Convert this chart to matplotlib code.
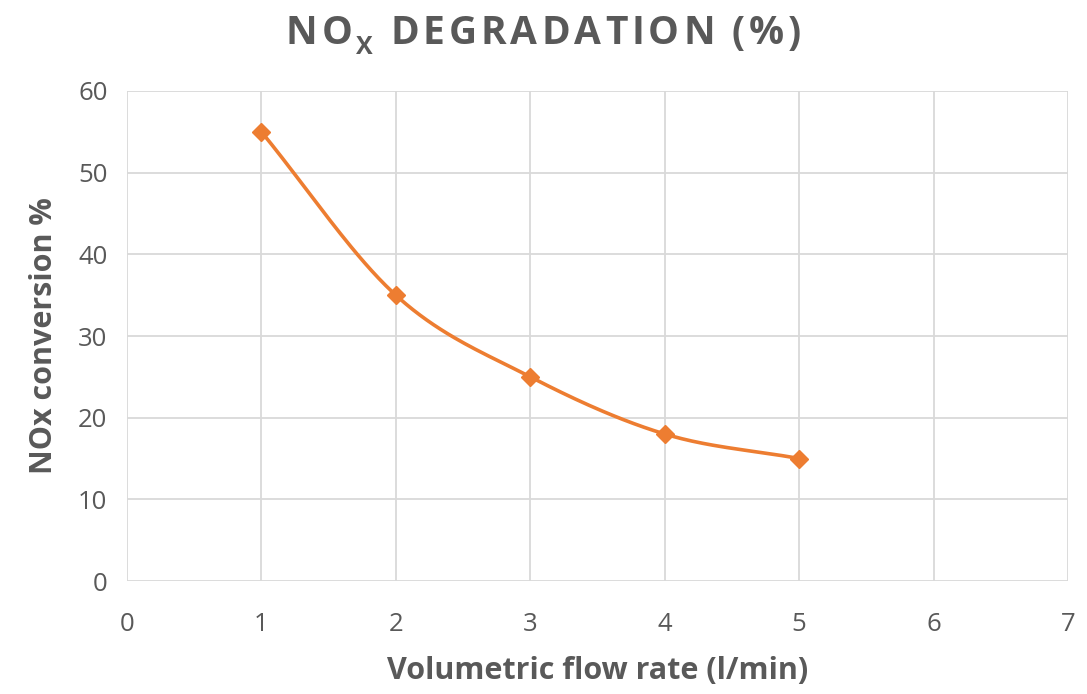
import matplotlib
matplotlib.use('Agg')
import matplotlib.pyplot as plt
import numpy as np

# NOx conversion vs. flow rate
flow_rate = [1, 2, 3, 4, 5]
nox_conversion = [55, 35, 25, 18, 15]
x_ticks = [0, 1, 2, 3, 4, 5, 6, 7]
y_ticks = [0, 10, 20, 30, 40, 50, 60]

TEXT = '#595959'
GRID = '#D9D9D9'
ORANGE = '#ED7D31'

plt.rcParams['font.family'] = ['Open Sans', 'DejaVu Sans']


def smooth_curve(xs, ys, n=40):
    """Catmull-Rom style smoothing, similar to a spreadsheet smoothed line."""
    xs = np.asarray(xs, float)
    ys = np.asarray(ys, float)
    pts = np.column_stack([xs, ys])
    ext = np.vstack([pts[0] - (pts[1] - pts[0]), pts, pts[-1] + (pts[-1] - pts[-2])])
    out = []
    for i in range(1, len(ext) - 2):
        p0, p1, p2, p3 = ext[i - 1], ext[i], ext[i + 1], ext[i + 2]
        c1 = p1 + (p2 - p0) / 6
        c2 = p2 - (p3 - p1) / 6
        t = np.linspace(0, 1, n)[:, None]
        seg = ((1 - t) ** 3) * p1 + 3 * ((1 - t) ** 2) * t * c1 + 3 * (1 - t) * t ** 2 * c2 + t ** 3 * p2
        out.append(seg if i == 1 else seg[1:])
    out = np.vstack(out)
    return out[:, 0], out[:, 1]


def spaced_title(fig, parts, y, tracking=3.5):
    """Draw a letter-spaced title; parts = [(text, size, dy_px)]."""
    fig.canvas.draw()
    r = fig.canvas.get_renderer()
    W = fig.bbox.width
    items = []
    total = 0
    for txt, size, dy in parts:
        for ch in txt:
            t = fig.text(0, 0, ch, fontsize=size, fontweight='bold', color=TEXT)
            w = t.get_window_extent(r).width
            t.remove()
            if ch == ' ':
                w = size * 0.32
            items.append((ch, size, dy, w))
            total += w + tracking
    total -= tracking
    x = (W - total) / 2
    H = fig.bbox.height
    for ch, size, dy, w in items:
        if ch != ' ':
            fig.text(x / W, (y * H - dy) / H, ch, fontsize=size,
                     fontweight='bold', color=TEXT, ha='left', va='baseline')
        x += w + tracking


fig = plt.figure(figsize=(10.87, 6.94), dpi=100)
ax = fig.add_axes([0.1168, 0.1628, 0.8657, 0.7061])

sx, sy = smooth_curve(flow_rate, nox_conversion)
ax.plot(sx, sy, color=ORANGE, lw=2.6, solid_capstyle='round', zorder=3)
ax.plot(flow_rate, nox_conversion, ls='none', marker='D', ms=9.5,
        color=ORANGE, zorder=4)

ax.set_xlim(0, 7)
ax.set_ylim(0, 60)
ax.set_xticks(x_ticks)
ax.set_yticks(y_ticks)
ax.grid(True, color=GRID, lw=1.3)
ax.set_axisbelow(True)
for s in ax.spines.values():
    s.set_visible(False)
ax.tick_params(length=0, labelsize=18.5, labelcolor=TEXT)
ax.tick_params(axis='x', pad=22)
ax.tick_params(axis='y', pad=14)

ax.set_xlabel('Volumetric flow rate (l/min)', fontsize=22, fontweight='bold',
              color=TEXT, labelpad=14)
ax.set_ylabel('NOx conversion %', fontsize=22, fontweight='bold',
              color=TEXT, labelpad=14)

# baseline of the title at about 44 px from the top
spaced_title(fig, [('NO', 28, 0), ('X', 18, 10), (' DEGRADATION (%)', 28, 0)],
             y=1 - 44 / 694, tracking=4)

fig.savefig('out.png', dpi=100, facecolor='white')
